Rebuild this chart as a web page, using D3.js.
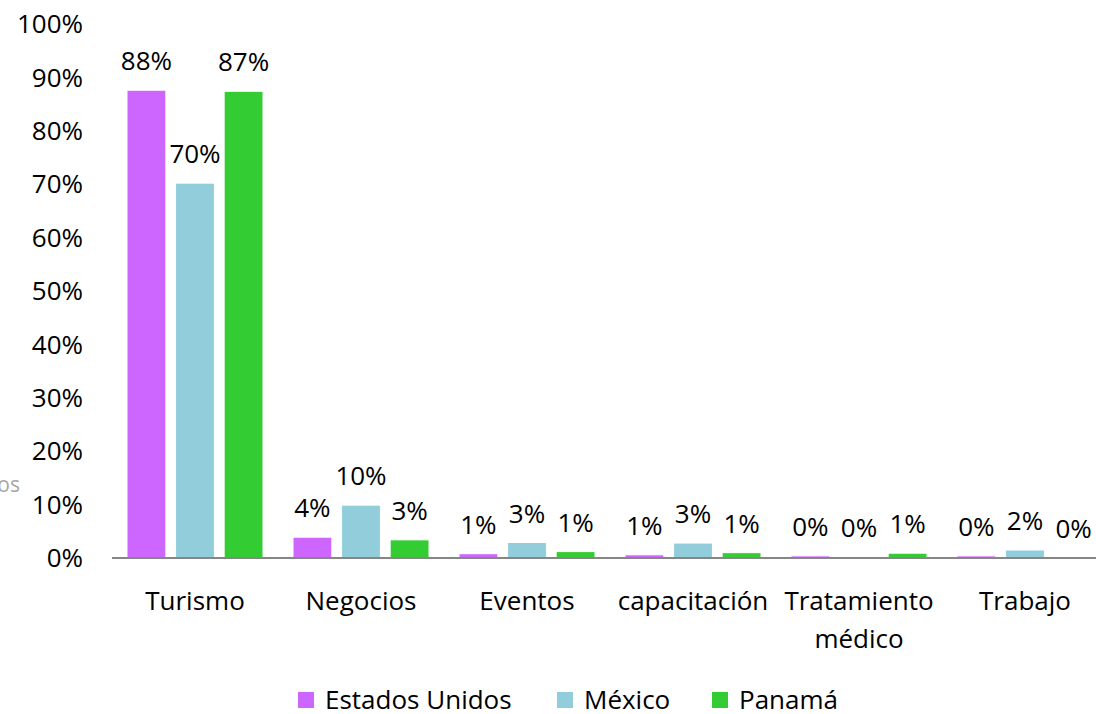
<!DOCTYPE html>
<html>
<head>
<meta charset="utf-8">
<script src="https://d3js.org/d3.v7.min.js"></script>
<style>
  body { margin: 0; background: #fff; }
  svg text { font-family: "Open Sans", sans-serif; fill: #000; }
</style>
</head>
<body>
<div id="chart"></div>
<script>
const categories = ["Turismo", "Negocios", "Eventos", "capacitación", "Tratamiento médico", "Trabajo"];
const series = ["Estados Unidos", "México", "Panamá"];
const colors = ["#cc66ff", "#92cddc", "#33cc33"];
const estadosUnidos = [87.6, 3.9, 0.8, 0.6, 0.4, 0.4];
const mexico = [70.2, 9.9, 2.9, 2.8, 0.2, 1.5];
const panama = [87.4, 3.4, 1.2, 1.0, 0.9, 0.0];
const yTicks = [0, 10, 20, 30, 40, 50, 60, 70, 80, 90, 100];

const values = [estadosUnidos, mexico, panama];

const width = 1096, height = 714;
const svg = d3.select('#chart').append('svg')
    .attr('width', width)
    .attr('height', height);

const y = d3.scaleLinear().domain([0, 100]).range([558, 24]);
const x0 = d3.scaleBand().domain(categories).range([112, 1108]);
const x1 = d3.scaleBand().domain(series).range([15, x0.bandwidth() - 15]).paddingInner(0.2);

// y tick labels
svg.selectAll('.ytick')
    .data(yTicks)
    .enter().append('text')
        .attr('x', 83)
        .attr('y', d => y(d))
        .attr('dy', '0.35em')
        .attr('text-anchor', 'end')
        .style('font-size', '26px')
        .text(d => d + '%');

// clipped axis title fragment (cut off in the original too)
svg.append('text')
    .attr('x', 20)
    .attr('y', 492)
    .attr('text-anchor', 'end')
    .style('font-size', '21px')
    .style('fill', '#a6a6a6')
    .text('os');

const groups = svg.selectAll('.group')
    .data(categories)
    .enter().append('g')
        .attr('transform', d => `translate(${x0(d)},0)`);

groups.selectAll('rect')
    .data((c, i) => series.map((s, j) => ({ s, j, v: values[j][i] })))
    .enter().append('rect')
        .attr('x', d => x1(d.s))
        .attr('width', x1.bandwidth())
        .attr('y', d => y(d.v))
        .attr('height', d => y(0) - y(d.v))
        .attr('fill', d => colors[d.j])
        .attr('stroke', '#fff')
        .attr('stroke-width', 1);

groups.selectAll('.lbl')
    .data((c, i) => series.map((s, j) => ({ s, j, v: values[j][i] })))
    .enter().append('text')
        .attr('x', d => x1(d.s) + x1.bandwidth() / 2)
        .attr('y', d => y(d.v) - 20)
        .attr('text-anchor', 'middle')
        .style('font-size', '26px')
        .text(d => Math.round(d.v) + '%');

// x axis line
svg.append('line')
    .attr('x1', 112).attr('x2', width)
    .attr('y1', y(0)).attr('y2', y(0))
    .attr('stroke', '#868686')
    .attr('stroke-width', 2);

// category labels (wrap two-word label)
groups.append('text')
    .attr('x', x0.bandwidth() / 2)
    .attr('y', 610)
    .attr('text-anchor', 'middle')
    .style('font-size', '26px')
    .each(function(d) {
        const parts = d === "Tratamiento médico" ? ["Tratamiento", "médico"] : [d];
        parts.forEach((p, k) => {
            d3.select(this).append('tspan')
                .attr('x', x0.bandwidth() / 2)
                .attr('dy', k === 0 ? 0 : 38)
                .text(p);
        });
    });

// legend
const legendX = [298, 557, 712];
const legend = svg.selectAll('.legend')
    .data(series)
    .enter().append('g')
        .attr('transform', (d, i) => `translate(${legendX[i]},692)`);
legend.append('rect')
    .attr('width', 16).attr('height', 16)
    .attr('fill', (d, i) => colors[i]);
legend.append('text')
    .attr('x', 27)
    .attr('y', 8)
    .attr('dy', '0.35em')
    .style('font-size', '26px')
    .text(d => d);
</script>
</body>
</html>
